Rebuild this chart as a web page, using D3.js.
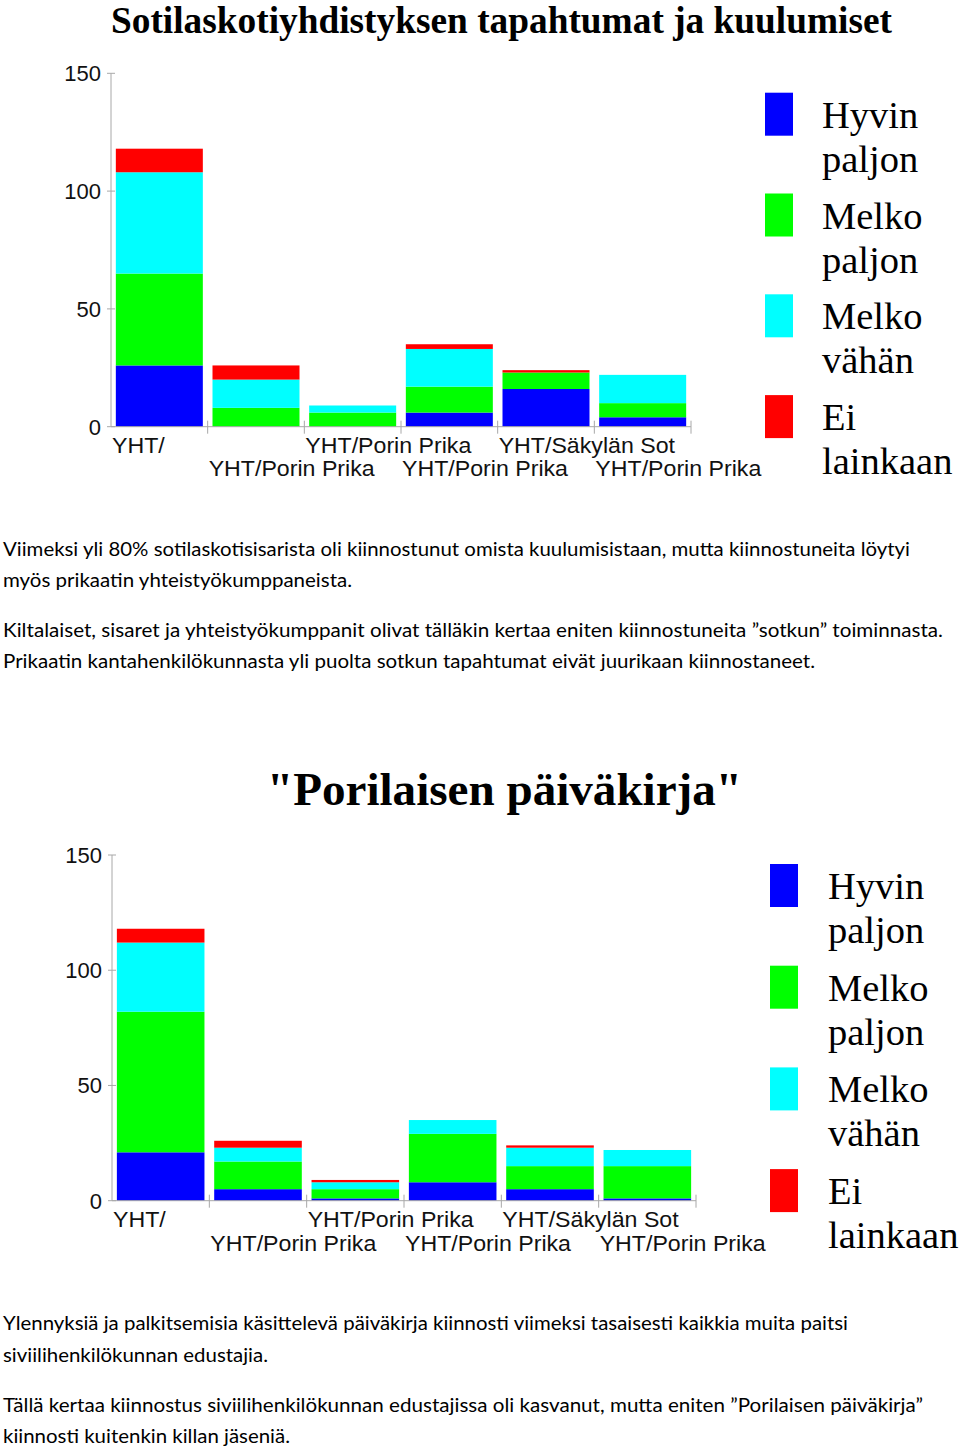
<!DOCTYPE html>
<html><head><meta charset="utf-8">
<script src="https://cdn.jsdelivr.net/npm/d3@7"></script>
<style>body{margin:0;background:#fff}</style>
</head><body><svg id="c" width="960" height="1450"></svg>
<script>
// ---------- DATA ----------
const seriesNames = ["Hyvin paljon", "Melko paljon", "Melko vähän", "Ei lainkaan"];
const seriesColors = ["#0000ff", "#00ff00", "#00ffff", "#ff0000"];
const tickLabels = ["YHT/", "YHT/Porin Prika", "YHT/Porin Prika", "YHT/Porin Prika", "YHT/Säkylän Sot", "YHT/Porin Prika"];
const yTicks = [0, 50, 100, 150];

const title1 = "Sotilaskotiyhdistyksen tapahtumat ja kuulumiset";
const c1Hyvin = [26, 0, 0, 6, 16, 4];
const c1MelkoPaljon = [39, 8, 6, 11, 7, 6];
const c1MelkoVahan = [43, 12, 3, 16, 0, 12];
const c1EiLainkaan = [10, 6, 0, 2, 1, 0];
const text1 = [
  "Viimeksi yli 80% sotilaskotisisarista oli kiinnostunut omista kuulumisistaan, mutta kiinnostuneita löytyi",
  "myös prikaatin yhteistyökumppaneista.",
  "Kiltalaiset, sisaret ja yhteistyökumppanit olivat tälläkin kertaa eniten kiinnostuneita ”sotkun” toiminnasta.",
  "Prikaatin kantahenkilökunnasta yli puolta sotkun tapahtumat eivät juurikaan kiinnostaneet."
];

const title2 = "\"Porilaisen päiväkirja\"";
const c2Hyvin = [21, 5, 1, 8, 5, 1];
const c2MelkoPaljon = [61, 12, 4, 21, 10, 14];
const c2MelkoVahan = [30, 6, 3, 6, 8, 7];
const c2EiLainkaan = [6, 3, 1, 0, 1, 0];
const text2 = [
  "Ylennyksiä ja palkitsemisia käsittelevä päiväkirja kiinnosti viimeksi tasaisesti kaikkia muita paitsi",
  "siviilihenkilökunnan edustajia.",
  "Tällä kertaa kiinnostus siviilihenkilökunnan edustajissa oli kasvanut, mutta eniten ”Porilaisen päiväkirja”",
  "kiinnosti kuitenkin killan jäseniä."
];

// ---------- LAYOUT ----------
const layout1 = {x0:111, x1:691, yTop:73.3, yBase:426.7, titleY:33, titleCx:501.5, titleW:781, titleSize:37,
  rowY:[453,476], lblW:166, swX:765, swY:92.7, swStep:100.8, txtX:822,
  paraY:[556,587,637,668], paraW:[907,349,940,812]};
const layout2 = {x0:112, x1:696, yTop:855, yBase:1200.7, titleY:805, titleCx:504.5, titleW:475, titleSize:45,
  rowY:[1227,1251], lblW:166, swX:770, swY:864, swStep:101.7, txtX:828,
  paraY:[1330,1362,1412,1443], paraW:[845,265,920,287]};

const svg = d3.select("#c");
const AXIS = "#a8a8a8";

function fitFont(t, target, size) {
  const w = t.node().getComputedTextLength();
  t.attr("font-size", size * target / w);
}

function drawChart(series, title, paras, L) {
  const g = svg.append("g");
  const idx = d3.range(tickLabels.length);
  const rows = idx.map(i => { const r = {i}; seriesNames.forEach((s, k) => r[s] = series[k][i]); return r; });
  const stacked = d3.stack().keys(seriesNames)(rows);

  const x = d3.scaleBand().domain(idx).range([L.x0, L.x1]).paddingInner(0.1).paddingOuter(0.05);
  const y = d3.scaleLinear().domain([0, 150]).range([L.yBase, L.yTop]);

  // title
  const t = g.append("text").text(title).attr("x", L.titleCx).attr("y", L.titleY)
    .attr("text-anchor", "middle").attr("font-family", "Liberation Serif").attr("font-weight", "bold")
    .attr("font-size", L.titleSize).attr("fill", "#000");
  fitFont(t, L.titleW, L.titleSize);

  // bars
  g.selectAll("g.s").data(stacked).join("g").attr("fill", (d, k) => seriesColors[k])
    .selectAll("rect").data(d => d.filter(p => p[1] > p[0])).join("rect")
    .attr("x", d => x(d.data.i)).attr("width", x.bandwidth())
    .attr("y", d => y(d[1])).attr("height", d => y(d[0]) - y(d[1]));

  // y axis
  g.append("line").attr("x1", L.x0).attr("x2", L.x0).attr("y1", y(150)).attr("y2", y(0))
    .attr("stroke", AXIS).attr("stroke-width", 1);
  yTicks.forEach(v => {
    g.append("line").attr("x1", L.x0 - 4).attr("x2", L.x0 + 4).attr("y1", y(v)).attr("y2", y(v))
      .attr("stroke", AXIS);
    g.append("text").text(v).attr("x", L.x0 - 10).attr("y", y(v)).attr("dy", "0.36em")
      .attr("text-anchor", "end").attr("font-family", "Liberation Sans").attr("font-size", 22).attr("fill", "#111");
  });
  // x axis
  g.append("line").attr("x1", L.x0).attr("x2", L.x1).attr("y1", y(0)).attr("y2", y(0)).attr("stroke", AXIS);
  d3.range(1, idx.length + 1).forEach(k => {
    const xx = L.x0 + k * x.step();
    g.append("line").attr("x1", xx).attr("x2", xx).attr("y1", y(0) - 6).attr("y2", y(0) + 7).attr("stroke", AXIS);
  });
  const probe = g.append("text").text(tickLabels[1]).attr("font-family", "Liberation Sans").attr("font-size", 22.5);
  const ratio = L.lblW / probe.node().getComputedTextLength();
  probe.remove();
  idx.forEach(i => {
    const lt = g.append("text").text(tickLabels[i]).attr("x", L.x0 + 1 + i * x.step()).attr("y", L.rowY[i % 2])
      .attr("font-family", "Liberation Sans").attr("font-size", 22.5).attr("fill", "#111");
    const w = lt.node().getComputedTextLength();
    lt.attr("textLength", w * ratio).attr("lengthAdjust", "spacingAndGlyphs");
  });

  // legend
  seriesNames.forEach((s, k) => {
    const sy = L.swY + k * L.swStep;
    g.append("rect").attr("x", L.swX).attr("y", sy).attr("width", 28).attr("height", 43).attr("fill", seriesColors[k]);
    s.split(" ").forEach((w, j) => {
      g.append("text").text(w).attr("x", L.txtX).attr("y", sy + 35 + j * 44)
        .attr("font-family", "Liberation Serif").attr("font-size", 38.5).attr("fill", "#000");
    });
  });

  // paragraph text
  paras.forEach((p, j) => {
    g.append("text").text(p).attr("x", 3).attr("y", L.paraY[j])
      .attr("font-family", "Lato").attr("font-size", 19.5).attr("fill", "#000")
      .attr("textLength", L.paraW[j]).attr("lengthAdjust", "spacingAndGlyphs");
  });
  return g;
}

drawChart([c1Hyvin, c1MelkoPaljon, c1MelkoVahan, c1EiLainkaan], title1, text1, layout1);
drawChart([c2Hyvin, c2MelkoPaljon, c2MelkoVahan, c2EiLainkaan], title2, text2, layout2);
</script></body></html>
